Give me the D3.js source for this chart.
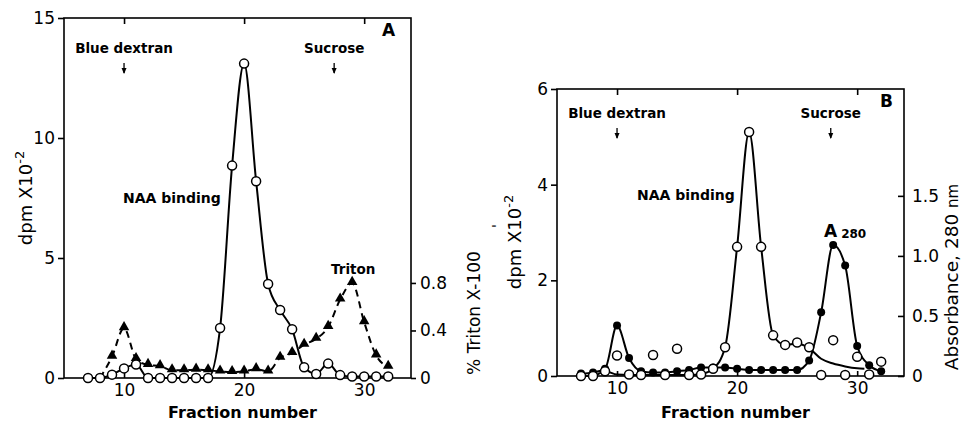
<!DOCTYPE html>
<html>
<head>
<meta charset="utf-8">
<script src="https://cdn.jsdelivr.net/npm/d3@7/dist/d3.min.js"></script>
<style>
  body { margin: 0; background: #fff; }
  svg text { font-family: "DejaVu Sans", sans-serif; fill: #000; }
</style>
</head>
<body>
<svg id="chart" width="962" height="421"></svg>
<script>
// fractions 7..32 collected from the column
const fractions = d3.range(7, 33);
const xTicks = [10, 20, 30];

// ---- panel A : NAA binding (dpm x10^-2) and Triton X-100 (%) ----
const naaA = [0, 0, 0.14, 0.4, 0.56, 0, 0, 0, 0, 0, 0, 2.08, 8.85, 13.1, 8.2, 3.92, 2.83, 2.03, 0.45, 0.17, 0.6, 0.12, 0.06, 0.06, 0.06, 0.06];
const tritonFractions = d3.range(8, 33);
const tritonA = [0, 0.18, 0.42, 0.16, 0.11, 0.10, 0.065, 0.065, 0.07, 0.065, 0.055, 0.05, 0.055, 0.075, 0.055, 0.17, 0.21, 0.28, 0.33, 0.43, 0.66, 0.80, 0.47, 0.19, 0.095];
const leftTicksA = [0, 5, 10, 15];
const rightTicksA = [0, 0.4, 0.8];

// ---- panel B : NAA binding (dpm x10^-2) and A280 ----
const naaB = [0, 0, 0.1, 0.43, 0.03, 0.02, 0.44, 0.02, 0.57, 0.02, 0.03, 0.15, 0.6, 2.7, 5.1, 2.7, 0.85, 0.65, 0.7, 0.6, 0.02, 0.75, 0.02, 0.4, 0.03, 0.3];
// hand drawn curve through the NAA binding points
const naaBCurveF = [7, 8, 9, 10, 11, 12, 14, 16, 17, 18, 19, 20, 21, 22, 23, 24, 25, 26, 27, 28, 29, 30, 30.6];
const naaBCurveV = [0, 0, 0.1, 0.03, 0.02, 0.02, 0.02, 0.02, 0.04, 0.15, 0.6, 2.7, 5.1, 2.7, 0.85, 0.65, 0.68, 0.58, 0.36, 0.26, 0.2, 0.16, 0.15];
const a280B = [0.02, 0.03, 0.06, 0.42, 0.15, 0.04, 0.03, 0.03, 0.04, 0.05, 0.07, 0.07, 0.07, 0.06, 0.05, 0.05, 0.05, 0.05, 0.05, 0.13, 0.53, 1.09, 0.92, 0.25, 0.09, 0.04];
const leftTicksB = [0, 2, 4, 6];
const rightTicksB = [0, 0.5, 1.0, 1.5];

// markers: Blue dextran and Sucrose
const markerNames = ["Blue dextran", "Sucrose"];
const markerA = [10, 27.5];
const markerB = [10, 27.8];

const svg = d3.select("#chart");
const xDomain = [5, 33.9];

function pts(fs, vs) {
  return fs.map((f, i) => ({f: f, v: vs[i]}));
}

function styleAxis(g, size) {
  g.select(".domain").remove();
  g.attr("font-family", null).attr("font-size", null);
  g.selectAll("line").attr("stroke", "#000").attr("stroke-width", 1.6);
  g.selectAll("text").style("font-size", size + "px");
}

function numFmt(d) {
  return d === 0 ? "0" : d3.format(".1f")(d);
}

function panel(o) {
  const g = svg.append("g");
  const x = d3.scaleLinear().domain(xDomain).range(o.xr);
  const y = d3.scaleLinear().domain([0, o.leftMax]).range(o.yr);
  const y2 = d3.scaleLinear().domain([0, o.rightMax]).range(o.yr);

  // frame
  g.append("rect")
    .attr("x", o.xr[0]).attr("y", o.yr[1])
    .attr("width", o.xr[1] - o.xr[0]).attr("height", o.yr[0] - o.yr[1])
    .attr("fill", "none").attr("stroke", "#000").attr("stroke-width", 1.6);

  g.append("g").attr("transform", `translate(0,${o.yr[0]})`)
    .call(d3.axisBottom(x).tickValues(xTicks).tickFormat(d3.format("d"))
      .tickSizeInner(-5).tickSizeOuter(0).tickPadding(6))
    .call(a => styleAxis(a, 17));
  g.append("g").attr("transform", `translate(0,${o.yr[1]})`)
    .call(d3.axisTop(x).tickValues(xTicks).tickSizeInner(-6).tickSizeOuter(0).tickFormat(""))
    .call(a => styleAxis(a, 17));
  g.append("g").attr("transform", `translate(${o.xr[0]},0)`)
    .call(d3.axisLeft(y).tickValues(o.leftTicks).tickFormat(d3.format("d"))
      .tickSizeInner(6).tickSizeOuter(0).tickPadding(3))
    .call(a => styleAxis(a, 17));
  g.append("g").attr("transform", `translate(${o.xr[1]},0)`)
    .call(d3.axisRight(y2).tickValues(o.rightTicks).tickFormat(numFmt)
      .tickSizeInner(o.rightInward ? -6 : 5).tickSizeOuter(0).tickPadding(o.rightInward ? 8 : 4))
    .call(a => styleAxis(a, 17));

  // Blue dextran / Sucrose labels and arrows
  o.markers.forEach((f, i) => {
    g.append("text").attr("x", x(f)).attr("y", o.markerY)
      .attr("text-anchor", "middle").style("font-size", "13.5px").style("font-weight", "bold")
      .text(markerNames[i]);
    g.append("line").attr("x1", x(f)).attr("x2", x(f))
      .attr("y1", o.markerY + 10).attr("y2", o.markerY + 20)
      .attr("stroke", "#000").attr("stroke-width", 1.3);
    g.append("path")
      .attr("d", `M${x(f) - 2.5},${o.markerY + 15}L${x(f) + 2.5},${o.markerY + 15}L${x(f)},${o.markerY + 21}Z`)
      .attr("fill", "#000");
  });

  g.append("text").attr("x", o.labelPos[0]).attr("y", o.labelPos[1])
    .style("font-size", "17px").style("font-weight", "bold").text(o.label);

  g.append("text").attr("x", (o.xr[0] + o.xr[1]) / 2 + 5).attr("y", 418)
    .attr("text-anchor", "middle").style("font-size", "16px").style("font-weight", "bold")
    .text("Fraction number");

  const yl = g.append("text")
    .attr("transform", `translate(${o.dpmPos[0]},${o.dpmPos[1]}) rotate(-90)`)
    .attr("text-anchor", "middle").style("font-size", "18px");
  yl.append("tspan").text("dpm X10");
  yl.append("tspan").attr("dy", -8).style("font-size", "13px").text("-2");

  return {g: g, x: x, y: y, y2: y2};
}

function openCircles(p, data, yScale) {
  p.g.append("g").selectAll("circle").data(data).join("circle")
    .attr("cx", d => p.x(d.f)).attr("cy", d => yScale(d.v)).attr("r", 4.5)
    .attr("fill", "#fff").attr("stroke", "#000").attr("stroke-width", 1.5);
}

function solidLine(p, data, yScale) {
  p.g.append("path").datum(data)
    .attr("d", d3.line().x(d => p.x(d.f)).y(d => yScale(d.v)).curve(d3.curveMonotoneX))
    .attr("fill", "none").attr("stroke", "#000").attr("stroke-width", 2)
    .attr("stroke-linejoin", "round");
}

// ------- panel A -------
const A = panel({
  xr: [64, 411], yr: [378, 18], leftMax: 15, rightMax: 3.03,
  leftTicks: leftTicksA, rightTicks: rightTicksA, rightInward: false,
  markers: markerA, markerY: 53, label: "A", labelPos: [382, 36], dpmPos: [32, 198]
});
const naaAPts = pts(fractions, naaA);
const tritonPts = pts(tritonFractions, tritonA);

A.g.append("path").datum(tritonPts)
  .attr("d", d3.line().x(d => A.x(d.f)).y(d => A.y2(d.v)).curve(d3.curveMonotoneX))
  .attr("fill", "none").attr("stroke", "#000").attr("stroke-width", 2)
  .attr("stroke-dasharray", "7,5");
solidLine(A, naaAPts, A.y);
A.g.append("g").selectAll("path").data(tritonPts.filter(d => d.v > 0)).join("path")
  .attr("transform", d => `translate(${A.x(d.f)},${A.y2(d.v) - 1})`)
  .attr("d", d3.symbol(d3.symbolTriangle, 48))
  .attr("fill", "#000");
openCircles(A, naaAPts, A.y);

A.g.append("text").attr("x", 123).attr("y", 203)
  .style("font-size", "14px").style("font-weight", "bold").text("NAA binding");
A.g.append("text").attr("x", 331).attr("y", 274)
  .style("font-size", "13.5px").style("font-weight", "bold").text("Triton");
A.g.append("text").attr("transform", "translate(480,313) rotate(-90)")
  .attr("text-anchor", "middle").style("font-size", "17px").text("% Triton X-100");

// ------- panel B -------
const B = panel({
  xr: [557, 904], yr: [376, 89], leftMax: 6, rightMax: 2.39,
  leftTicks: leftTicksB, rightTicks: rightTicksB, rightInward: true,
  markers: markerB, markerY: 118, label: "B", labelPos: [880, 107], dpmPos: [521, 242]
});
const naaBPts = pts(fractions, naaB);
const a280Pts = pts(fractions, a280B);

solidLine(B, pts(naaBCurveF, naaBCurveV), B.y);
solidLine(B, a280Pts, B.y2);
B.g.append("g").selectAll("circle").data(a280Pts).join("circle")
  .attr("cx", d => B.x(d.f)).attr("cy", d => B.y2(d.v)).attr("r", 4)
  .attr("fill", "#000");
openCircles(B, naaBPts, B.y);

B.g.append("text").attr("x", 637).attr("y", 200)
  .style("font-size", "14px").style("font-weight", "bold").text("NAA binding");
const a280Label = B.g.append("text").attr("x", 824).attr("y", 237)
  .style("font-size", "17px").style("font-weight", "bold");
a280Label.append("tspan").text("A");
a280Label.append("tspan").attr("dx", 4).attr("dy", 1).style("font-size", "12px").text("280");
B.g.append("text").attr("transform", "translate(502,228) rotate(-90)")
  .style("font-size", "14px").text("'");

const absLabel = B.g.append("text").attr("transform", "translate(958,277) rotate(-90)")
  .attr("text-anchor", "middle").style("font-size", "18.5px");
absLabel.append("tspan").text("Absorbance, 280 ");
absLabel.append("tspan").style("font-size", "15px").text("nm");
</script>
</body>
</html>
